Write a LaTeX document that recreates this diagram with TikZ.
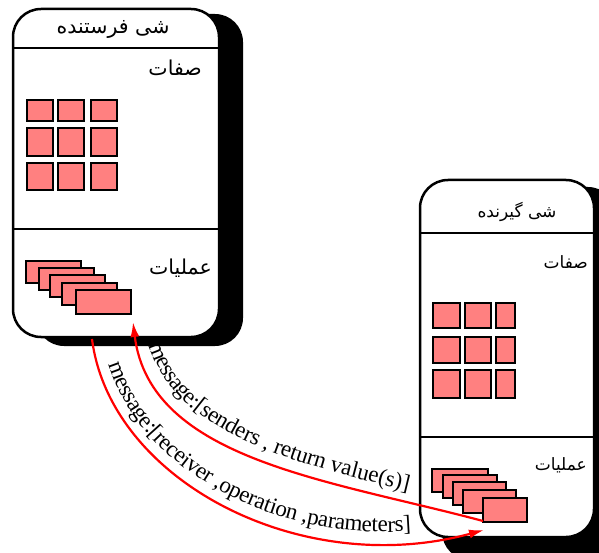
\documentclass[tikz,border=0pt]{standalone}
\usepackage{fontspec}
\setmainfont{Liberation Serif}
\newfontfamily\persianfont[Script=Arabic]{DejaVu Sans}
\TeXXeTstate=1
\usepackage{tikz}
\usetikzlibrary{positioning, arrows.meta, decorations.text}
\definecolor{cellred}{HTML}{FF8080}
\newcommand{\msgfont}{\fontsize{23}{23}\selectfont}

\begin{document}
\begin{tikzpicture}[x=1pt, y=-1pt, >={Latex[length=15pt,width=9pt]}]
    \tikzstyle{frame} = [draw, line width=2.5pt, rounded corners=28pt, fill=white]
    \tikzstyle{shade} = [fill=black, rounded corners=28pt]
    \tikzstyle{sep} = [line width=2.5pt]
    \tikzstyle{cell} = [draw, line width=2pt, fill=cellred]
    \tikzstyle{msg} = [red, line width=2.2pt]
    \tikzstyle{bigfa} = [font=\persianfont\fontsize{20.5}{20.5}\selectfont, inner sep=0pt]
    \tikzstyle{smallfa} = [font=\persianfont\fontsize{17}{17}\selectfont, inner sep=0pt]

    \useasboundingbox (0,0) rectangle (599,553);
    \clip (0,0) rectangle (599,553);

    % Sender object
    \fill[shade] (36,14) rectangle (243,346);
    \draw[frame] (13,9) rectangle (219,337);
    \draw[sep] (13,48) -- (219,48);
    \draw[sep] (13,229) -- (219,229);
    \node[bigfa] (sname) at (113,29) {\beginR شی فرستنده\endR};
    \node[bigfa, anchor=east] (sattr) at (202,68) {\beginR صفات\endR};
    \node[bigfa, anchor=east] (sops) at (212,268) {\beginR عملیات\endR};
    \foreach \x/\w in {27/26, 58/26, 91/26}
        \foreach \y/\h in {100/21, 128/28, 163/27}
            \draw[cell] (\x,\y) rectangle ++(\w,\h);
    \foreach \x/\y/\h in {26/261/22, 38.5/268/22, 50/275/22, 62/282.5/22, 76/290/24}
        \draw[cell] (\x,\y) rectangle ++(55,\h);

    % Receiver object
    \fill[shade] (442,187) rectangle (616,560);
    \draw[frame] (420,180) rectangle (594,537);
    \draw[sep] (420,233) -- (594,233);
    \draw[sep] (420,437) -- (594,437);
    \node[smallfa] (rname) at (517,212) {\beginR شی گیرنده\endR};
    \node[smallfa, anchor=east] (rattr) at (588,262) {\beginR صفات\endR};
    \node[smallfa, anchor=east] (rops) at (587,465) {\beginR عملیات\endR};
    \foreach \x/\w in {433/27, 465/26, 496/19}
        \foreach \y/\h in {303/25, 337/26, 370/28}
            \draw[cell] (\x,\y) rectangle ++(\w,\h);
    \foreach \x/\y/\w/\h in {432/469/56/23, 443/475/54/23, 453/482/53/23, 463/490/53/23, 483/498/44/24}
        \draw[cell] (\x,\y) rectangle ++(\w,\h);

    % Messages
    \coordinate (sbot) at (92,339);
    \coordinate (rin) at (484,530);
    \coordinate (rret) at (483,521);
    \coordinate (stip) at (133,322);
    \draw[msg, ->] (sbot) .. controls (110,480) and (300,580) .. (rin);
    \path[decorate, decoration={text along path, raise=11pt, text align={left indent=30pt},
        text={|\msgfont|message:[receiver ,operation ,parameters]}}]
        (sbot) .. controls (110,480) and (300,580) .. (rin);
    \draw[msg, <-] (stip) .. controls (150,460) and (330,480) .. (rret);
    \path[decorate, decoration={text along path, raise=11pt, text align={left indent=28pt},
        text={|\msgfont|message:[senders , return value(s)]}}]
        (stip) .. controls (150,460) and (330,480) .. (rret);
\end{tikzpicture}
\end{document}
